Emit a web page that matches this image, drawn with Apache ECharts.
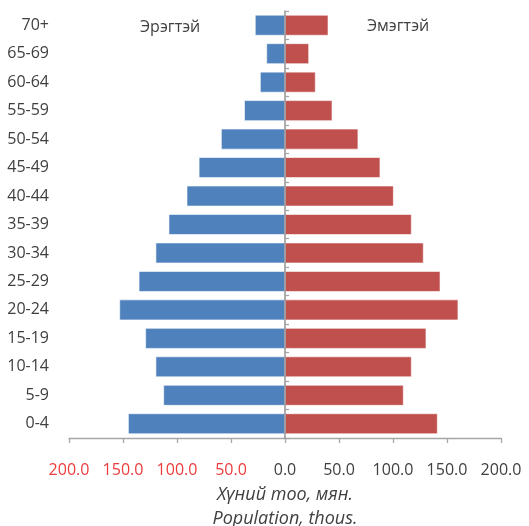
<!DOCTYPE html>
<html>
<head>
<meta charset="utf-8">
<script src="https://cdn.jsdelivr.net/npm/echarts@6/dist/echarts.min.js"></script>
<style>
  html, body { margin: 0; padding: 0; background: #fff; }
  #chart { width: 529px; height: 526px; }
</style>
</head>
<body>
<div id="chart"></div>
<script>
// age groups, bottom to top
const ageGroups = ['0-4', '5-9', '10-14', '15-19', '20-24', '25-29', '30-34', '35-39',
    '40-44', '45-49', '50-54', '55-59', '60-64', '65-69', '70+'];
// thousands of people
const male = [145.5, 112.8, 120.0, 129.5, 153.5, 135.6, 120.0, 107.9,
    91.2, 80.0, 59.4, 38.0, 23.3, 17.4, 28.0];
const female = [141.5, 110.0, 117.4, 131.0, 160.6, 144.0, 128.5, 117.4,
    100.8, 88.4, 68.0, 44.0, 28.5, 22.4, 40.3];
const xTicks = [-200, -150, -100, -50, 0, 50, 100, 150, 200];
const maleLabel = 'Эрэгтэй';
const femaleLabel = 'Эмэгтэй';
const axisTitle = 'Хүний тоо, мян.\nPopulation, thous.';

const FONT = '"Open Sans", "Noto Sans", sans-serif';
const chart = echarts.init(document.getElementById('chart'));

chart.setOption({
    backgroundColor: '#fff',
    animation: false,
    textStyle: { fontFamily: FONT },
    grid: { left: 69, right: 28, top: 11, bottom: 88, outerBoundsMode: 'none', containLabel: false },
    xAxis: {
        type: 'value',
        min: xTicks[0],
        max: xTicks[xTicks.length - 1],
        interval: 50,
        splitLine: { show: false },
        axisLine: { show: true, onZero: false, lineStyle: { color: '#a6a6a6', width: 1.3 } },
        axisTick: { show: true, length: 5, lineStyle: { color: '#a6a6a6', width: 1.3 } },
        axisLabel: {
            margin: 24,
            formatter: v => (v < 0 ? '{n|' : '{p|') + Math.abs(v).toFixed(1) + '}',
            rich: {
                n: { color: '#ee3b3b', fontSize: 16, fontFamily: FONT },
                p: { color: '#404040', fontSize: 16, fontFamily: FONT }
            }
        },
        name: axisTitle,
        nameLocation: 'middle',
        nameGap: 42,
        nameTextStyle: { color: '#404040', fontSize: 18, fontStyle: 'italic', lineHeight: 24, fontFamily: FONT }
    },
    yAxis: [
        {
            type: 'category',
            data: ageGroups,
            axisLine: { show: false, onZero: false },
            axisTick: { show: false },
            axisLabel: { color: '#404040', fontSize: 16, margin: 20, fontFamily: FONT }
        },
        {
            type: 'category',
            data: ageGroups,
            z: 10,
            axisLine: { show: true, onZero: true, lineStyle: { color: 'rgba(60,60,60,0.55)', width: 1.5 } },
            axisTick: { show: true, length: 4, lineStyle: { color: '#a6a6a6', width: 1.3 } },
            axisLabel: { show: false }
        }
    ],
    graphic: [
        { type: 'text', left: 140, top: 19, style: { text: maleLabel, fill: '#404040', fontSize: 16, fontFamily: FONT } },
        { type: 'text', left: 367, top: 18, style: { text: femaleLabel, fill: '#404040', fontSize: 16, fontFamily: FONT } }
    ],
    series: [
        {
            name: maleLabel,
            type: 'bar',
            barWidth: '74%',
            barGap: '-100%',
            data: male.map(v => -v),
            itemStyle: { color: '#4f81bd', borderColor: 'rgba(255,255,255,0.6)', borderWidth: 1 }
        },
        {
            name: femaleLabel,
            type: 'bar',
            barWidth: '74%',
            barGap: '-100%',
            data: female,
            itemStyle: { color: '#c0504d', borderColor: 'rgba(255,255,255,0.6)', borderWidth: 1 }
        }
    ]
});
</script>
</body>
</html>
